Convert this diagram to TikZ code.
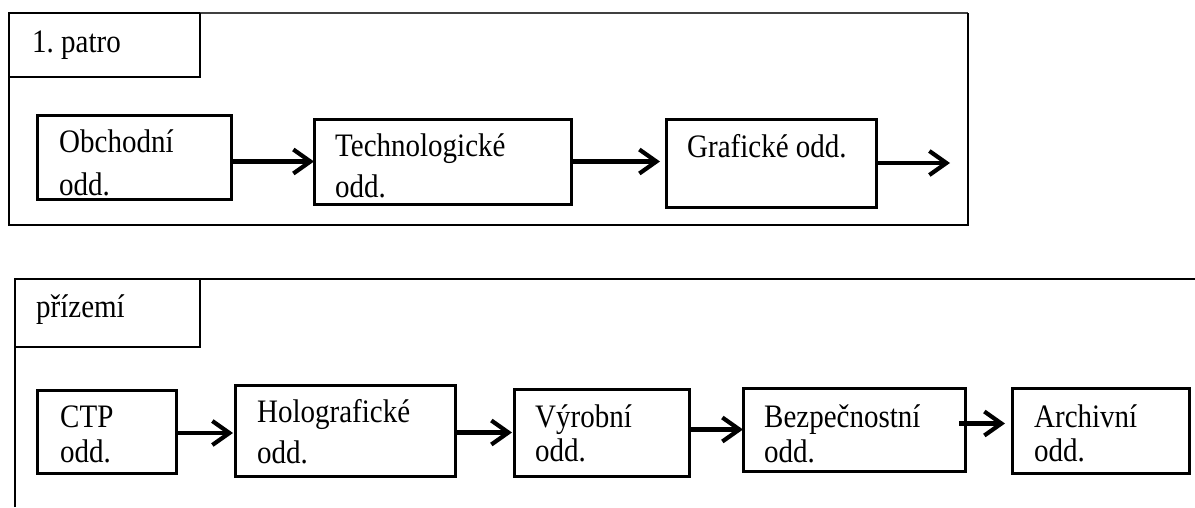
\documentclass[tikz,border=0pt]{standalone}
\usepackage{fontspec}
\usepackage{graphicx}
\setmainfont{Liberation Serif}
\usetikzlibrary{arrows.meta}
\frenchspacing
% text is set slightly taller than wide
\newcommand{\tallword}[1]{\scalebox{1}[1.13]{#1}}
\begin{document}
\begin{tikzpicture}[x=1pt,y=-1pt,
  frame/.style={draw=black,line width=2.5pt,line join=miter},
  dept/.style={draw=black,line width=3pt,inner sep=0pt,outer sep=0pt},
  lbl/.style={anchor=base west,inner sep=0pt,font=\fontsize{29pt}{43pt}\selectfont},
  flow/.style={line width=4.2pt,-{Straight Barb[length=17pt,width=24pt]}}]
\useasboundingbox (0,0) rectangle (1195,507);

% ---- upper floor ----
\draw[frame,line width=1.8pt,draw=black!75] (200,13) -- (968,13);
\draw[frame] (200,13) -- (9,13) -- (9,225) -- (968,225) -- (968,13);
\draw[frame] (9,77) -- (200,77) -- (200,13);
\node[lbl] (floorA) at (32,52) {\tallword{1. patro}};

\node[dept,minimum width=194pt,minimum height=84pt] (obch) at (134,157) {};
\node[lbl] (obchA) at (59,152) {\tallword{Obchodní}};
\node[lbl] (obchB) at (59,195) {\tallword{odd.}};

\node[dept,minimum width=257pt,minimum height=85pt] (tech) at (442.5,161.5) {};
\node[lbl] (techA) at (335,156) {\tallword{Technologické}};
\node[lbl] (techB) at (335,197) {\tallword{odd.}};

\node[dept,minimum width=210pt,minimum height=88pt] (graf) at (771,163) {};
\node[lbl] (grafA) at (687,157) {\tallword{Grafické odd.}};

\coordinate (out) at (950,163);

\draw[flow] (obch.east |- tech.west) -- (tech.west);
\draw[flow,shorten >=6pt] (tech.east) -- (tech.east -| graf.west);
\draw[flow] (graf.east) -- (out);

% ---- ground floor ----
\draw[frame] (15,507) -- (15,279) -- (1195,279);
\draw[frame] (15,347) -- (200,347) -- (200,279);
\node[lbl] (floorB) at (36,317) {\tallword{přízemí}};

\node[dept,minimum width=139pt,minimum height=83pt] (ctp) at (106.5,431.5) {};
\node[lbl] (ctpA) at (60,427) {\tallword{CTP}};
\node[lbl] (ctpB) at (60,462) {\tallword{odd.}};

\node[dept,minimum width=220pt,minimum height=91pt] (holo) at (345,430.5) {};
\node[lbl] (holoA) at (257,422) {\tallword{Holografické}};
\node[lbl] (holoB) at (257,463) {\tallword{odd.}};

\node[dept,minimum width=175pt,minimum height=87pt] (vyr) at (601.5,432.5) {};
\node[lbl] (vyrA) at (535,427) {\tallword{Výrobní}};
\node[lbl] (vyrB) at (535,461) {\tallword{odd.}};

\node[dept,minimum width=222pt,minimum height=83pt] (bezp) at (854,429.5) {};
\node[lbl] (bezpA) at (764,427) {\tallword{Bezpečnostní}};
\node[lbl] (bezpB) at (764,462) {\tallword{odd.}};

\node[dept,minimum width=177pt,minimum height=85pt] (arch) at (1100.5,430.5) {};
\node[lbl] (archA) at (1034,427) {\tallword{Archivní}};
\node[lbl] (archB) at (1034,461) {\tallword{odd.}};

\draw[flow,shorten >=2pt] ([yshift=-1.5pt]ctp.east) -- ([yshift=-1.5pt]ctp.east -| holo.west);
\draw[flow,shorten >=2pt] (holo.east |- vyr.west) -- (vyr.west);
\draw[flow] (vyr.east |- bezp.west) -- (bezp.west);
\draw[flow,shorten >=1pt] ([xshift=-6pt,yshift=6pt]bezp.east) -- ([xshift=-6pt,yshift=6pt]bezp.east -| arch.west);
\end{tikzpicture}
\end{document}
